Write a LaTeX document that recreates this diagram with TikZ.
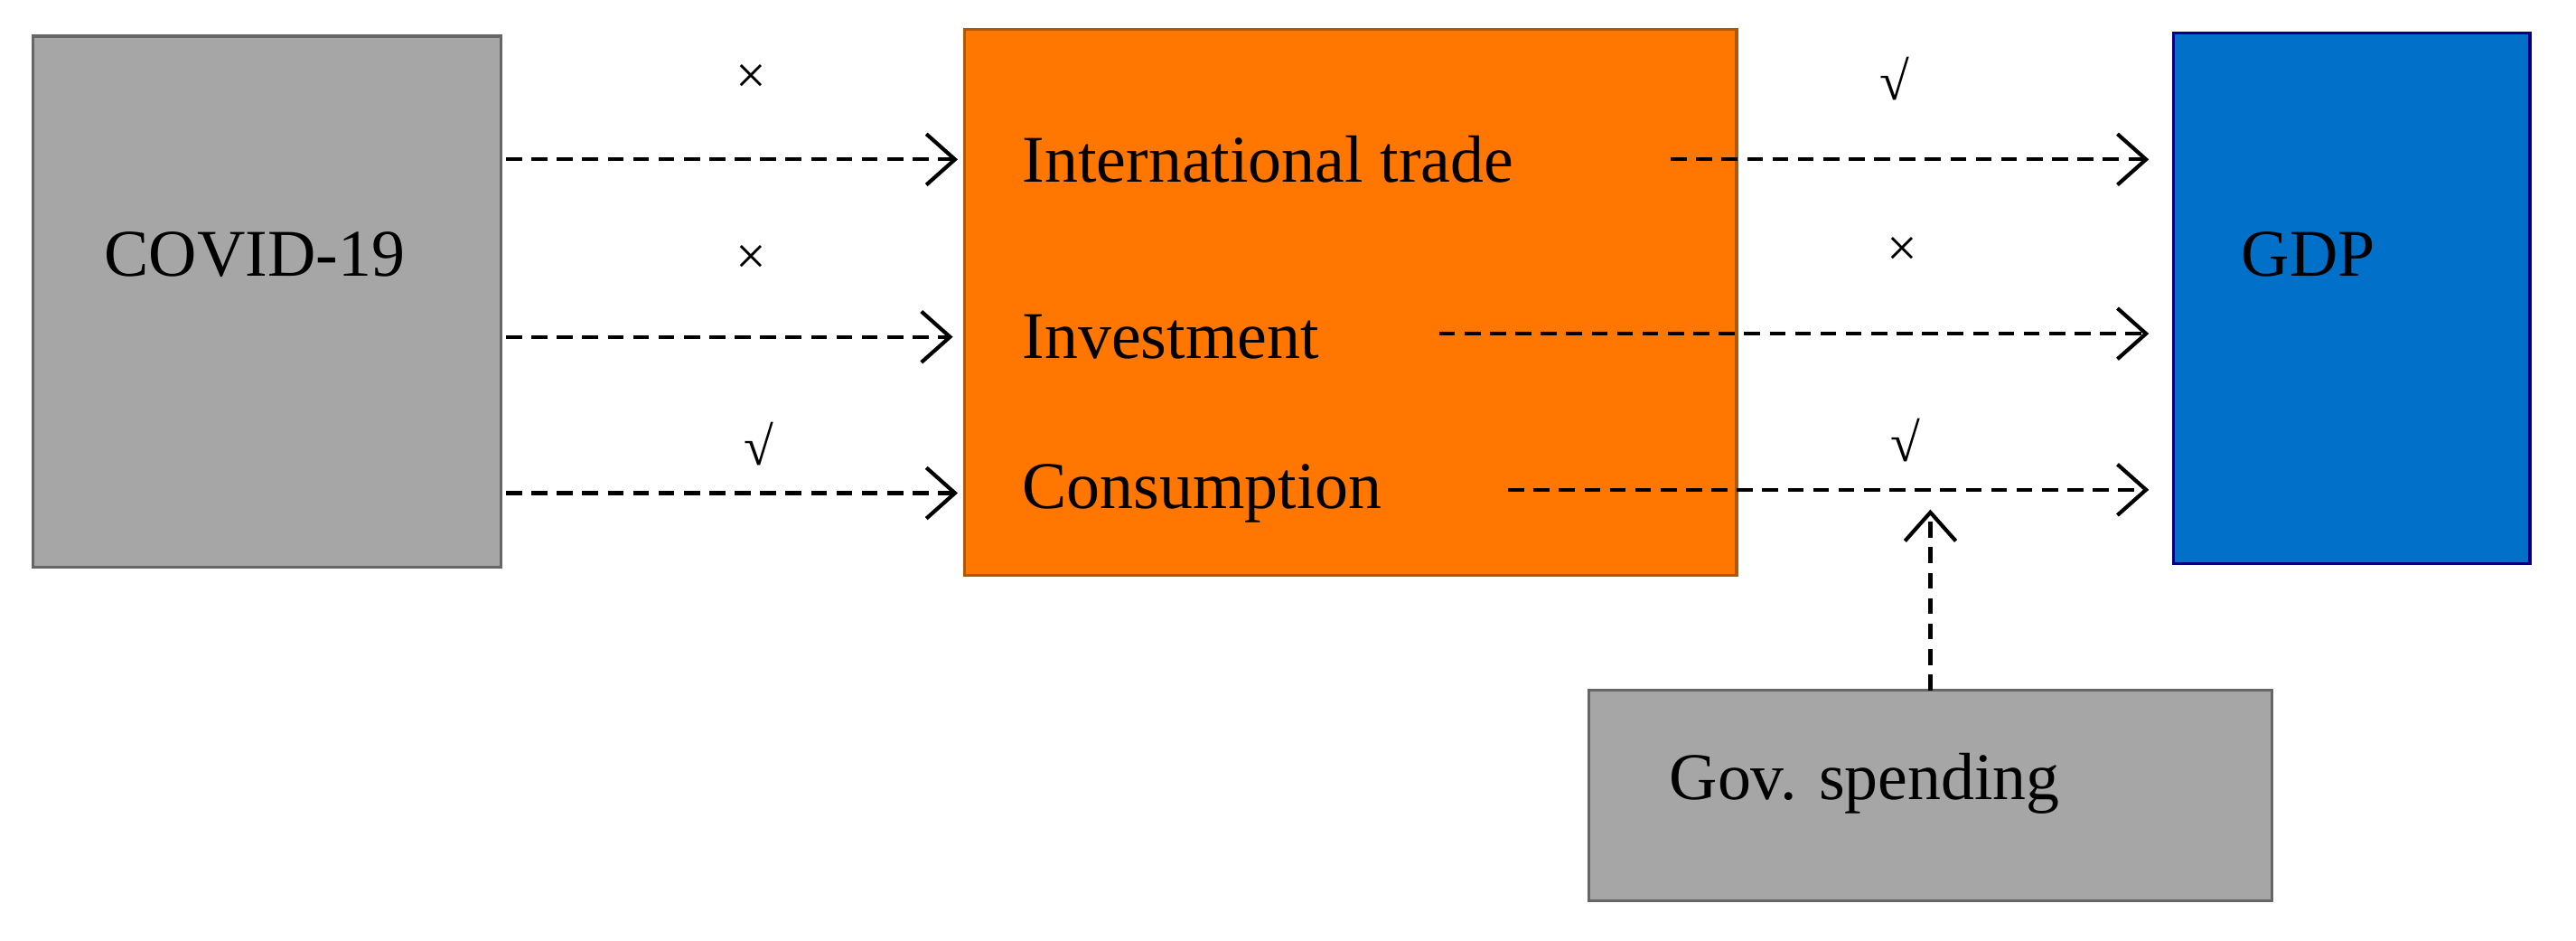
\documentclass[tikz,border=0pt]{standalone}
\usepackage{fontspec}
\setmainfont{Liberation Serif}
\usetikzlibrary{arrows.meta}
\definecolor{gbox}{HTML}{A6A6A6}
\definecolor{obox}{HTML}{FF7700}
\definecolor{bbox}{HTML}{0070C8}
\begin{document}
\begin{tikzpicture}[x=0.01818cm,y=-0.01818cm,
  lbl/.style={font=\fontsize{21}{24}\selectfont,inner sep=0pt},
  mk/.style={font=\fontsize{17}{20}\selectfont,inner sep=0pt},
  arr/.style={dashed,line width=1.2pt,dash pattern=on 5pt off 3pt,-{Straight Barb[length=9pt,width=16pt,line width=1.2pt]}}]
\useasboundingbox (0,0) rectangle (1568,572);
\draw[fill=gbox,draw=gray!80!black,line width=1pt] (20,22) rectangle (305,345);
\draw[fill=obox,draw=orange!70!black,line width=1pt] (587,18) rectangle (1057,350);
\draw[fill=bbox,draw=blue!50!black,line width=1pt] (1323,20) rectangle (1540,343);
\draw[fill=gbox,draw=gray!80!black,line width=1pt] (967,420) rectangle (1383,548);
\node[lbl] (cov) at (155,155) {COVID-19};
\node[lbl,anchor=west] (it) at (622,97) {International trade};
\node[lbl,anchor=west] (inv) at (622,205) {Investment};
\node[lbl,anchor=west] (con) at (622,300) {Consumption};
\node[lbl] (gdp) at (1405,155) {GDP};
\node[lbl] (gov) at (1135,477) {Gov. spending};
\coordinate (a1) at (308,97); \coordinate (b1) at (583,97);
\coordinate (a2) at (308,205); \coordinate (b2) at (580,205);
\coordinate (a3) at (308,300); \coordinate (b3) at (583,300);
\coordinate (c1) at (1017,97); \coordinate (d1) at (1308,97);
\coordinate (c2) at (876,203); \coordinate (d2) at (1308,203);
\coordinate (c3) at (918,298); \coordinate (d3) at (1308,298);
\coordinate (g1) at (1175,420); \coordinate (g2) at (1175,310);
\foreach \s/\t in {a1/b1,a2/b2,a3/b3,c1/d1,c2/d2,c3/d3,g1/g2} \draw[arr] (\s) -- (\t);
\node[mk] (m1) at (457,48) {×};
\node[mk] (m2) at (457,158) {×};
\node[mk] (m3) at (462,270) {√};
\node[mk] (m4) at (1153,48) {√};
\node[mk] (m5) at (1158,153) {×};
\node[mk] (m6) at (1160,268) {√};
\end{tikzpicture}
\end{document}
